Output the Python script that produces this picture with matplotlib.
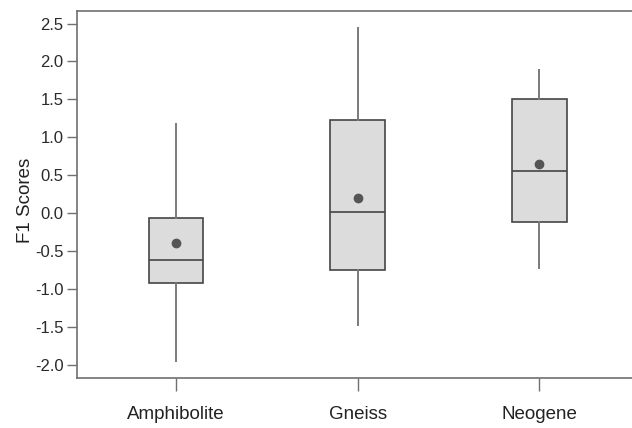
import matplotlib.pyplot as plt

plt.rcParams['font.family'] = ['Liberation Sans', 'DejaVu Sans']

groups = ['Amphibolite', 'Gneiss', 'Neogene']
whislo = [-1.95, -1.48, -0.72]
q1 = [-0.93, -0.75, -0.12]
med = [-0.62, 0.01, 0.56]
q3 = [-0.06, 1.23, 1.51]
whishi = [1.18, 2.44, 1.89]
means = [-0.40, 0.20, 0.64]
yticks = [2.5, 2.0, 1.5, 1.0, 0.5, 0.0, -0.5, -1.0, -1.5, -2.0]

stats = []
for i in range(len(groups)):
    stats.append({'label': groups[i], 'whislo': whislo[i], 'q1': q1[i], 'med': med[i],
                  'q3': q3[i], 'whishi': whishi[i], 'mean': means[i], 'fliers': []})

fig = plt.figure(figsize=(6.32, 4.28), dpi=100)
ax = fig.add_axes([0.1226, 0.1168, 0.8774, 0.8575])

ax.bxp(stats, positions=[1, 2, 3], widths=0.30, showmeans=True, showcaps=False,
       showfliers=False, patch_artist=True,
       boxprops=dict(facecolor='#dcdcdc', edgecolor='#454545', linewidth=1.2),
       medianprops=dict(color='#454545', linewidth=1.2),
       whiskerprops=dict(color='#7a7a7a', linewidth=1.4),
       meanprops=dict(marker='o', markerfacecolor='#555555', markeredgecolor='#555555',
                      markersize=6))

ax.set_xlim(0.457, 3.51)
ax.set_ylim(-2.177, 2.665)
ax.set_yticks(yticks)
ax.set_yticklabels(['%.1f' % v for v in yticks])
ax.set_ylabel('F1 Scores', fontsize=13.5, color='#222222')
ax.yaxis.set_label_coords(-0.078, 0.485)

for s in ['left', 'top', 'bottom']:
    ax.spines[s].set_color('#707070')
    ax.spines[s].set_linewidth(1.2)
ax.spines['right'].set_visible(False)

ax.tick_params(axis='y', length=7, width=1.0, color='#707070', labelsize=12,
               labelcolor='#2a2a2a', pad=3)
ax.tick_params(axis='x', length=9, width=1.0, color='#707070', labelsize=13.5,
               labelcolor='#222222', pad=11)

fig.savefig('out.png', dpi=100)
